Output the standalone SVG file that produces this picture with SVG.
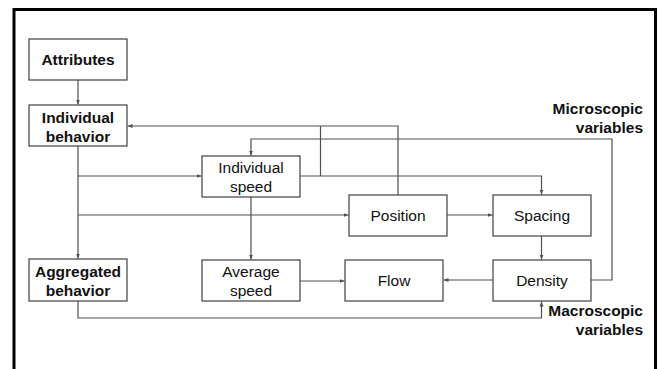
<svg xmlns="http://www.w3.org/2000/svg" width="659" height="369" viewBox="0 0 659 369">
<defs>
<style>
.box{fill:#fff;stroke:#404040;stroke-width:1.2}
.t{font-family:"Liberation Sans",Arial,sans-serif;font-size:15.5px;fill:#111;text-anchor:middle}
.b{font-weight:bold}
.lab{font-family:"Liberation Sans",Arial,sans-serif;font-size:15.5px;font-weight:bold;fill:#111;text-anchor:end}
.c{fill:none;stroke:#505050;stroke-width:1.2}
</style>
<marker id="ah" markerUnits="userSpaceOnUse" markerWidth="6" markerHeight="6" viewBox="0 0 6 6" refX="5" refY="3" orient="auto">
<path d="M0,1 L5,3 L0,5 Z" fill="#505050"/>
</marker>
</defs>
<rect width="659" height="369" fill="#fff"/>
<path d="M14,372 V9.5 H655.5 V372" fill="none" stroke="#000" stroke-width="3"/>

<g id="connectors">
<path class="c" d="M78,80 V104.5" marker-end="url(#ah)"/>
<path class="c" d="M78,146 V258.5" marker-end="url(#ah)"/>
<path class="c" d="M78,176 H201.5" marker-end="url(#ah)"/>
<path class="c" d="M78,215 H348.5" marker-end="url(#ah)"/>
<path class="c" d="M300,176 H541.5 V194.5" marker-end="url(#ah)"/>
<path class="c" d="M320.5,176 V126"/>
<path class="c" d="M398,195 V126 H127.5" marker-end="url(#ah)"/>
<path class="c" d="M447,215 H492.5" marker-end="url(#ah)"/>
<path class="c" d="M541.5,236 V259.5" marker-end="url(#ah)"/>
<path class="c" d="M591,280 H612 V139 H251 V155.5" marker-end="url(#ah)"/>
<path class="c" d="M493,280 H443.5" marker-end="url(#ah)"/>
<path class="c" d="M300,281 H344.5" marker-end="url(#ah)"/>
<path class="c" d="M251,197 V259.5" marker-end="url(#ah)"/>
<path class="c" d="M78,301 V318 H541.5 V301.5" marker-end="url(#ah)"/>
</g>

<g id="attributes">
<rect class="box" x="29" y="39" width="98" height="41"/>
<text class="t b" x="78" y="65">Attributes</text>
</g>
<g id="individual-behavior">
<rect class="box" x="29" y="105" width="98" height="41"/>
<text class="t b" x="78" y="123">Individual</text>
<text class="t b" x="78" y="142">behavior</text>
</g>
<g id="individual-speed">
<rect class="box" x="202" y="156" width="98" height="41"/>
<text class="t" x="251" y="173">Individual</text>
<text class="t" x="251" y="192">speed</text>
</g>
<g id="position">
<rect class="box" x="349" y="195" width="98" height="41"/>
<text class="t" x="398" y="221">Position</text>
</g>
<g id="spacing">
<rect class="box" x="493" y="195" width="98" height="41"/>
<text class="t" x="542" y="221">Spacing</text>
</g>
<g id="aggregated-behavior">
<rect class="box" x="29" y="259" width="98" height="42"/>
<text class="t b" x="78" y="277">Aggregated</text>
<text class="t b" x="78" y="296">behavior</text>
</g>
<g id="average-speed">
<rect class="box" x="202" y="260" width="98" height="41"/>
<text class="t" x="251" y="277">Average</text>
<text class="t" x="251" y="296">speed</text>
</g>
<g id="flow">
<rect class="box" x="345" y="260" width="98" height="41"/>
<text class="t" x="394" y="286">Flow</text>
</g>
<g id="density">
<rect class="box" x="493" y="260" width="98" height="41"/>
<text class="t" x="542" y="286">Density</text>
</g>

<g id="labels">
<text class="lab" x="643" y="114">Microscopic</text>
<text class="lab" x="643" y="133">variables</text>
<text class="lab" x="643" y="316">Macroscopic</text>
<text class="lab" x="643" y="335">variables</text>
</g>
</svg>
